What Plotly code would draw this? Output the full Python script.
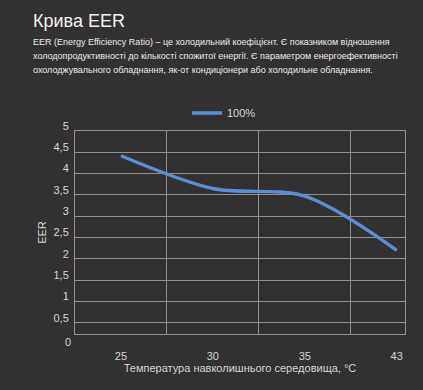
import plotly.graph_objects as go

categories = ["25", "30", "35", "43"]
eer_100 = [4.42, 3.65, 3.47, 2.2]
series_name = "100%"
y_ticks = [0.5, 1, 1.5, 2, 2.5, 3, 3.5, 4, 4.5, 5]
y_ticktext = ["0,5", "1", "1,5", "2", "2,5", "3", "3,5", "4", "4,5", "5"]

title_text = "Крива EER"
paragraph = [
    "EER (Energy Efficiency Ratio) – це холодильний коефіцієнт. Є показником відношення",
    "холодопродуктивності до кількості спожитої енергії. Є параметром енергоефективності",
    "охолоджувального обладнання, як-от кондиціонери або холодильне обладнання.",
]
x_title = "Температура навколишнього середовища, °C"
y_title = "EER"

W, H = 423, 390
L, R, T, B = 75, 18, 131, 56
PW, PH = W - L - R, H - T - B


def px(x):
    return (x - L) / PW


def py(y):
    return (H - B - y) / PH


BG = "#323031"
GRID = "#929192"
TXT = "#d6d6d6"
LINE = "#5b8fd4"
FONT = "Liberation Sans, Arial, sans-serif"

xs = list(range(len(categories)))

fig = go.Figure()
fig.add_trace(go.Scatter(
    x=xs, y=eer_100, mode="lines", name=series_name,
    line=dict(color=LINE, width=3.4, shape="spline", smoothing=0.9),
))

annotations = [
    dict(text=title_text, x=px(31), y=py(21), xref="paper", yref="paper",
         xanchor="left", yanchor="middle", showarrow=False,
         font=dict(size=18, color="#f2f2f2", family=FONT)),
]
for i, line in enumerate(paragraph):
    annotations.append(dict(
        text=line, x=px(31), y=py(42 + i * 14), xref="paper", yref="paper",
        xanchor="left", yanchor="middle", showarrow=False,
        font=dict(size=9, color="#ececec", family=FONT)))
# zero label below the (clipped) value axis
annotations.append(dict(
    text="0", x=px(73), y=py(342), xref="paper", yref="paper",
    xanchor="right", yanchor="middle", showarrow=False,
    font=dict(size=11, color=TXT, family=FONT)))

fig.update_layout(
    width=W, height=H,
    margin=dict(l=L, r=R, t=T, b=B, pad=0),
    paper_bgcolor=BG, plot_bgcolor=BG,
    font=dict(family=FONT, color=TXT, size=11),
    showlegend=True,
    legend=dict(orientation="h", x=px(224), y=py(113), xanchor="center",
                yanchor="middle", font=dict(size=11, color=TXT),
                bgcolor="rgba(0,0,0,0)"),
    annotations=annotations,
)

fig.update_xaxes(
    range=[-0.5, 3.09], tickvals=xs, ticktext=categories,
    showgrid=False, zeroline=False,
    showline=True, linecolor=GRID, linewidth=1, mirror=True,
    ticks="", ticklabelstandoff=12,
    tickfont=dict(size=11, color=TXT),
    minor=dict(tick0=0.5, dtick=1, showgrid=True, gridcolor=GRID, gridwidth=1),
    title=dict(text=x_title, font=dict(size=11, color=TXT), standoff=3),
    fixedrange=True,
)
fig.update_yaxes(
    range=[0.235, 5], tickvals=y_ticks, ticktext=y_ticktext,
    showgrid=True, gridcolor=GRID, gridwidth=1, zeroline=False,
    showline=True, linecolor=GRID, linewidth=1, mirror=True,
    ticks="", ticklabelshift=-5, ticklabelstandoff=3,
    tickfont=dict(size=11, color=TXT),
    title=dict(text=y_title, font=dict(size=11, color=TXT), standoff=4),
    fixedrange=True,
)

fig.write_html("out.html")
